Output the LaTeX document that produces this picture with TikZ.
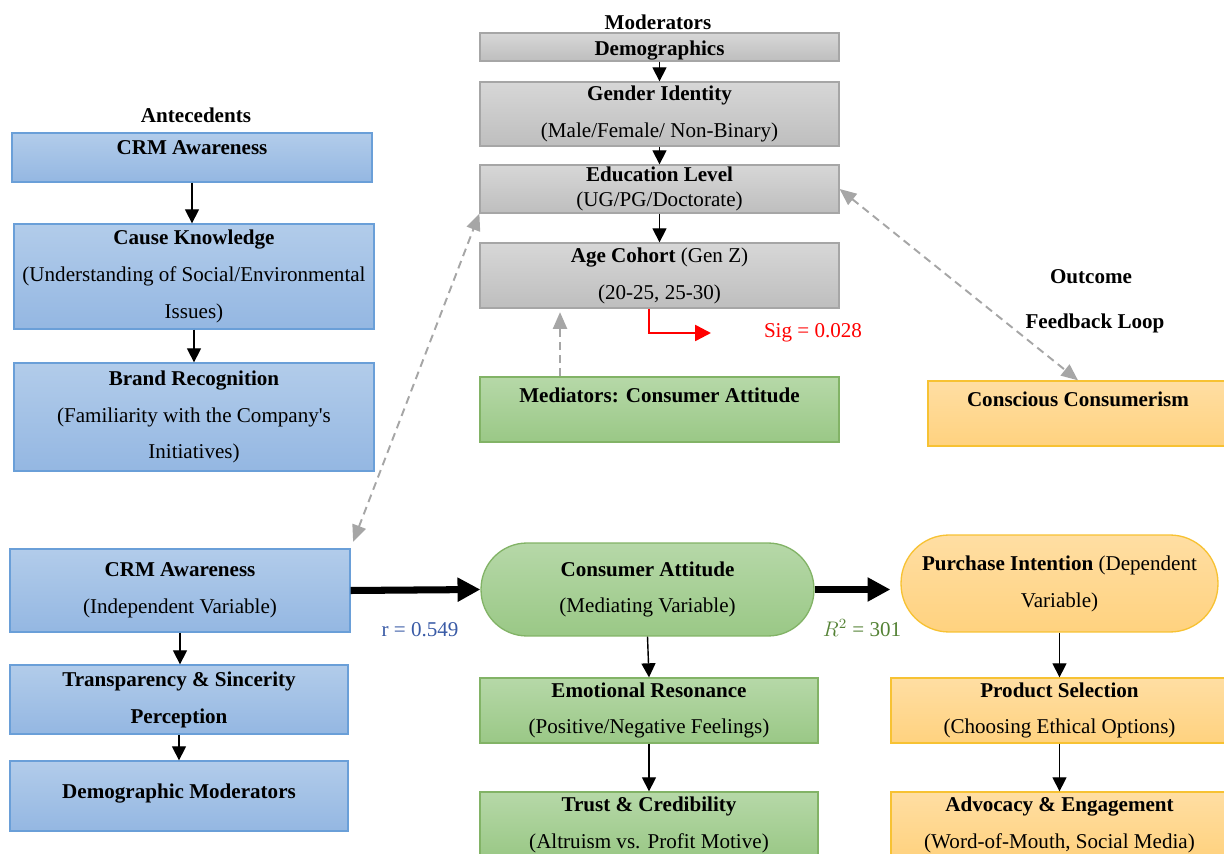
\documentclass[tikz,border=0pt]{standalone}
\usepackage{fontspec}
\setmainfont{Liberation Serif}
\usepackage{tikz}
\usetikzlibrary{arrows.meta,calc}

\definecolor{blueTop}{HTML}{B2CCEA}
\definecolor{blueBot}{HTML}{94B7E2}
\definecolor{blueLine}{HTML}{6A9FD8}
\definecolor{grayTop}{HTML}{D7D7D7}
\definecolor{grayBot}{HTML}{BEBEBE}
\definecolor{grayLine}{HTML}{A6A6A6}
\definecolor{greenTop}{HTML}{B6D8A8}
\definecolor{greenBot}{HTML}{9AC886}
\definecolor{greenLine}{HTML}{82B366}
\definecolor{orangeTop}{HTML}{FFDEA3}
\definecolor{orangeBot}{HTML}{FFD27F}
\definecolor{orangeLine}{HTML}{F7C233}
\definecolor{dashGray}{HTML}{A6A6A6}
\definecolor{rBlue}{HTML}{3A5BA6}
\definecolor{rGreen}{HTML}{548235}

\tikzset{
  txt/.style={font=\fontsize{12}{21}\selectfont, align=center},
  grouplabel/.style={font=\bfseries\fontsize{12}{14}\selectfont},
  basebox/.style={txt, rectangle, draw, line width=0.75pt, inner sep=0pt,
    execute at begin node={\rule{0pt}{12pt}}},
  antebox/.style={basebox, draw=blueLine, top color=blueTop, bottom color=blueBot},
  modbox/.style={basebox, draw=grayLine, top color=grayTop, bottom color=grayBot},
  medbox/.style={basebox, draw=greenLine, top color=greenTop, bottom color=greenBot},
  outbox/.style={basebox, draw=orangeLine, top color=orangeTop, bottom color=orangeBot},
  flowarrow/.style={->, >={Triangle[length=8pt,width=8pt]}, line width=0.8pt},
  boldarrow/.style={->, >={Triangle[length=13pt,width=13pt]}, line width=4pt},
  dashlink/.style={draw=dashGray, line width=1.1pt, dash pattern=on 4.5pt off 3pt, >={Triangle[length=9.5pt,width=8pt]}},
}

\begin{document}
\begin{tikzpicture}[x=0.02cm,y=-0.02cm]
  \useasboundingbox (0,0) rectangle (1224,854);

  % antecedents
  \node[grouplabel] (ante) at (196,115) {Antecedents};
  \node[antebox, minimum width=7.2cm, minimum height=0.98cm, text depth=15.5pt] (crmA) at (192,157.5) {\textbf{CRM Awareness}};
  \node[antebox, minimum width=7.2cm, minimum height=2.1cm] (cause) at (194,276.5) {\textbf{Cause Knowledge}\\(Understanding of Social/Environmental\\Issues)};
  \node[antebox, minimum width=7.2cm, minimum height=2.16cm] (brand) at (194,417) {\textbf{Brand Recognition}\\(Familiarity with the Company\textquotesingle s\\Initiatives)};

  \node[antebox, minimum width=6.8cm, minimum height=1.66cm] (crmB) at (180,590.5) {\textbf{CRM Awareness}\\(Independent Variable)};
  \node[antebox, minimum width=6.76cm, minimum height=1.38cm] (transp) at (179,699.5) {\textbf{Transparency \& Sincerity}\\\textbf{Perception}};
  \node[antebox, minimum width=6.76cm, minimum height=1.4cm, text depth=9pt] (demo) at (179,796) {\textbf{Demographic Moderators}};

  % moderators
  \node[grouplabel] (moder) at (658,22) {Moderators};
  \node[modbox, minimum width=7.18cm, minimum height=0.56cm] (demogr) at (659.5,47) {\textbf{Demographics}};
  \node[modbox, minimum width=7.18cm, minimum height=1.28cm] (gender) at (659.5,114) {\textbf{Gender Identity}\\(Male/Female/ Non-Binary)};
  \node[modbox, minimum width=7.18cm, minimum height=0.96cm, font=\fontsize{12}{14}\selectfont] (edu) at (659.5,189) {\textbf{Education Level}\\(UG/PG/Doctorate)};
  \node[modbox, minimum width=7.18cm, minimum height=1.3cm] (age) at (659.5,275.5) {\textbf{Age Cohort} (Gen Z)\\(20-25, 25-30)};

  % mediators
  \node[medbox, minimum width=7.18cm, minimum height=1.3cm, text depth=19.5pt] (mediat) at (659.5,409.5) {\textbf{Mediators: Consumer Attitude}};
  \node[medbox, rounded corners=0.92cm, minimum width=6.66cm, minimum height=1.86cm] (attitude) at (647.5,589.5) {\textbf{Consumer Attitude}\\(Mediating Variable)};
  \node[medbox, minimum width=6.76cm, minimum height=1.3cm] (emot) at (649,710.5) {\textbf{Emotional Resonance}\\(Positive/Negative Feelings)};
  \node[medbox, minimum width=6.76cm, minimum height=1.3cm] (trust) at (649,824.5) {\textbf{Trust \& Credibility}\\(Altruism vs. Profit Motive)};

  % outcome
  \node[grouplabel] (outc) at (1091,277) {Outcome};
  \node[grouplabel] (fback) at (1095,323) {Feedback Loop};
  \node[outbox, minimum width=6cm, minimum height=1.3cm, text depth=19.5pt] (conscious) at (1078,413.5) {\textbf{Conscious Consumerism}};
  \node[outbox, rounded corners=0.96cm, minimum width=6.34cm, minimum height=1.94cm] (purchase) at (1059.5,583.5) {\textbf{Purchase Intention} (Dependent\\Variable)};
  \node[outbox, minimum width=6.74cm, minimum height=1.3cm] (product) at (1059.5,710.5) {\textbf{Product Selection}\\(Choosing Ethical Options)};
  \node[outbox, minimum width=6.74cm, minimum height=1.3cm] (advoc) at (1059.5,824.5) {\textbf{Advocacy \& Engagement}\\(Word-of-Mouth, Social Media)};

  % statistics
  \node[txt, text=rBlue] (rval) at (420,630) {r = 0.549};
  \node[txt, text=rGreen] (rsq) at (862,628) {$R^2$ = 301};
  \node[txt, text=red] (sig) at (813,333) {Sig = 0.028};
  \coordinate (sigtip) at (711,333);

  % chains
  \draw[flowarrow] (crmA.south) -- (crmA.south |- cause.north);
  \draw[flowarrow] (cause.south) -- (cause.south |- brand.north);
  \draw[flowarrow] (crmB.south) -- (crmB.south |- transp.north);
  \draw[flowarrow] (transp.south) -- (demo.north);
  \draw[flowarrow] (demogr) -- (gender);
  \draw[flowarrow] (gender) -- (edu);
  \draw[flowarrow] (edu) -- (age);
  \draw[flowarrow] (attitude.south) -- (emot.north);
  \draw[flowarrow] (emot) -- (trust);
  \draw[flowarrow] (purchase.south) -- (product.north);
  \draw[flowarrow] (product) -- (advoc);

  % main path
  \draw[boldarrow] (crmB.east) -- (attitude.west);
  \draw[boldarrow, shorten >=0.2cm] (attitude.east) -- (attitude.east -| purchase.west);

  % feedback links
  \draw[dashlink, <->, shorten <=4pt] (crmB.north east) -- (edu.south west);
  \draw[dashlink, <->] (edu.east) -- (conscious.north);
  \draw[dashlink, ->, shorten >=2pt] ([xshift=-1.99cm]mediat.north) -- ([xshift=-1.99cm]age.south);
  \draw[red, line width=1.4pt, ->, >={Triangle[length=9pt,width=9pt]}] ([xshift=-0.21cm]age.south) |- (sigtip);
\end{tikzpicture}
\end{document}
